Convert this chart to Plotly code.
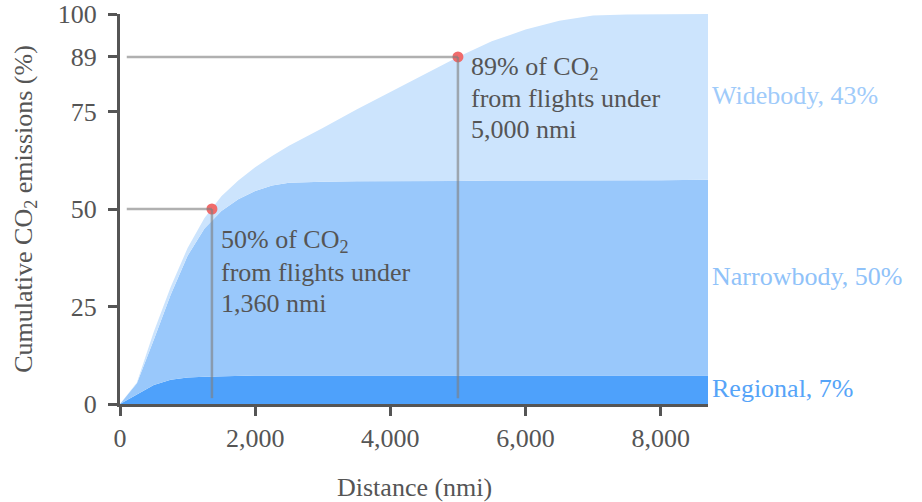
import plotly.graph_objects as go

# ---- data ----
distance = [0, 250, 500, 750, 1000, 1250, 1500, 1750, 2000, 2250, 2500, 2750,
            3000, 3500, 4000, 4500, 5000, 5500, 6000, 6500, 7000, 7500, 8000, 8700]
regional = [0, 2.5, 4.9, 6.2, 6.8, 7.0, 7.15, 7.25, 7.3, 7.3, 7.3, 7.3,
            7.3, 7.3, 7.3, 7.3, 7.3, 7.3, 7.3, 7.3, 7.3, 7.3, 7.3, 7.3]
narrowbody = [0, 2.8, 11.6, 21.8, 31.2, 38.0, 42.35, 45.25, 47.3, 48.7, 49.4, 49.6,
              49.7, 49.8, 49.8, 49.9, 49.9, 50.0, 50.0, 50.0, 50.1, 50.1, 50.1, 50.2]
widebody = [0, 0.2, 2.0, 2.0, 2.0, 2.7, 3.8, 4.8, 6.1, 7.6, 9.5, 11.5,
            13.8, 18.4, 22.9, 27.3, 31.8, 35.7, 38.7, 41.0, 42.2, 42.5, 42.6, 42.5]

series_names = ["Regional", "Narrowbody", "Widebody"]
series_shares = [7, 50, 43]
fill_colors = ["#4ea1fb", "#99c8fb", "#cce4fd"]
label_colors = ["#56a4f8", "#8fc2f9", "#9fcbfa"]
label_y = [4.1, 32.8, 79]

marker_x = [1360, 5000]
marker_y = [50, 89]
marker_lines = [["50% of CO<sub>2</sub>", "from flights under", "1,360 nmi"],
                ["89% of CO<sub>2</sub>", "from flights under", "5,000 nmi"]]
marker_xshift = [7, 11]
marker_first_offset = [32, 11]   # px below the dot of the first text line centre
LINE_GAP = 31

x_ticks = [0, 2000, 4000, 6000, 8000]
y_ticks = [0, 25, 50, 75, 89, 100]

FONT = "Liberation Serif"
TXT = "#555555"
FS = 26

fig = go.Figure()
for name, vals, col in zip(series_names, [regional, narrowbody, widebody], fill_colors):
    fig.add_trace(go.Scatter(
        x=distance, y=vals, name=name, mode="lines", stackgroup="one",
        line=dict(width=0, color=col), fillcolor=col, hoverinfo="skip"))

# reference lines
shapes = []
for mx, my in zip(marker_x, marker_y):
    shapes.append(dict(type="line", xref="x", yref="y", x0=100, x1=mx, y0=my, y1=my,
                       line=dict(color="rgba(128,128,128,0.62)", width=2.5), layer="above"))
    shapes.append(dict(type="line", xref="x", yref="y", x0=mx, x1=mx, y0=my, y1=1.5,
                       line=dict(color="rgba(128,128,128,0.62)", width=2.5), layer="above"))

fig.add_trace(go.Scatter(x=marker_x, y=marker_y, mode="markers",
                         marker=dict(color="#f06b6b", size=11), hoverinfo="skip"))

annotations = []
for mx, my, lines, xs, off in zip(marker_x, marker_y, marker_lines, marker_xshift, marker_first_offset):
    for i, t in enumerate(lines):
        annotations.append(dict(x=mx, y=my, xref="x", yref="y", text=t, showarrow=False,
                                xanchor="left", yanchor="middle", align="left",
                                xshift=xs, yshift=-(off + i * LINE_GAP),
                                font=dict(family=FONT, size=FS, color=TXT)))
for name, share, col, ly in zip(series_names, series_shares, label_colors, label_y):
    annotations.append(dict(x=distance[-1], y=ly, xref="x", yref="y",
                            text=f"{name}, {share}%", showarrow=False,
                            xanchor="left", yanchor="middle", xshift=2,
                            font=dict(family=FONT, size=FS, color=col)))
# axis titles
annotations.append(dict(x=0.5, y=-0.213, xref="paper", yref="paper", text="Distance (nmi)",
                        showarrow=False, xanchor="center", yanchor="middle",
                        font=dict(family=FONT, size=FS, color=TXT)))
annotations.append(dict(x=-0.162, y=0.5, xref="paper", yref="paper",
                        text="Cumulative CO<sub>2</sub> emissions (%)", textangle=-90,
                        showarrow=False, xanchor="center", yanchor="middle",
                        font=dict(family=FONT, size=FS, color=TXT)))

fig.update_layout(
    width=922, height=502,
    margin=dict(l=120, r=214, t=14, b=98),
    paper_bgcolor="white", plot_bgcolor="white",
    showlegend=False, hovermode=False,
    shapes=shapes, annotations=annotations,
    font=dict(family=FONT, size=FS, color=TXT),
    xaxis=dict(range=[0, 8700], tickvals=x_ticks, tickformat=",d", automargin=False,
               showgrid=False, zeroline=False, showline=True, linecolor="#555555",
               linewidth=3, ticks="outside", ticklen=9, tickwidth=3, tickcolor="#555555",
               ticklabelstandoff=0, ticklabeloverflow="allow",
               tickfont=dict(family=FONT, size=FS, color=TXT)),
    yaxis=dict(range=[0, 100], tickvals=y_ticks, automargin=False,
               showgrid=False, zeroline=False, showline=True, linecolor="#555555",
               linewidth=3, ticks="outside", ticklen=9, tickwidth=3, tickcolor="#555555",
               ticklabelstandoff=6, ticklabeloverflow="allow",
               tickfont=dict(family=FONT, size=FS, color=TXT)),
)

fig.write_html("out.html", config={"displayModeBar": False, "staticPlot": True},
               post_script="document.body.style.margin='0';document.body.style.overflow='hidden';")
